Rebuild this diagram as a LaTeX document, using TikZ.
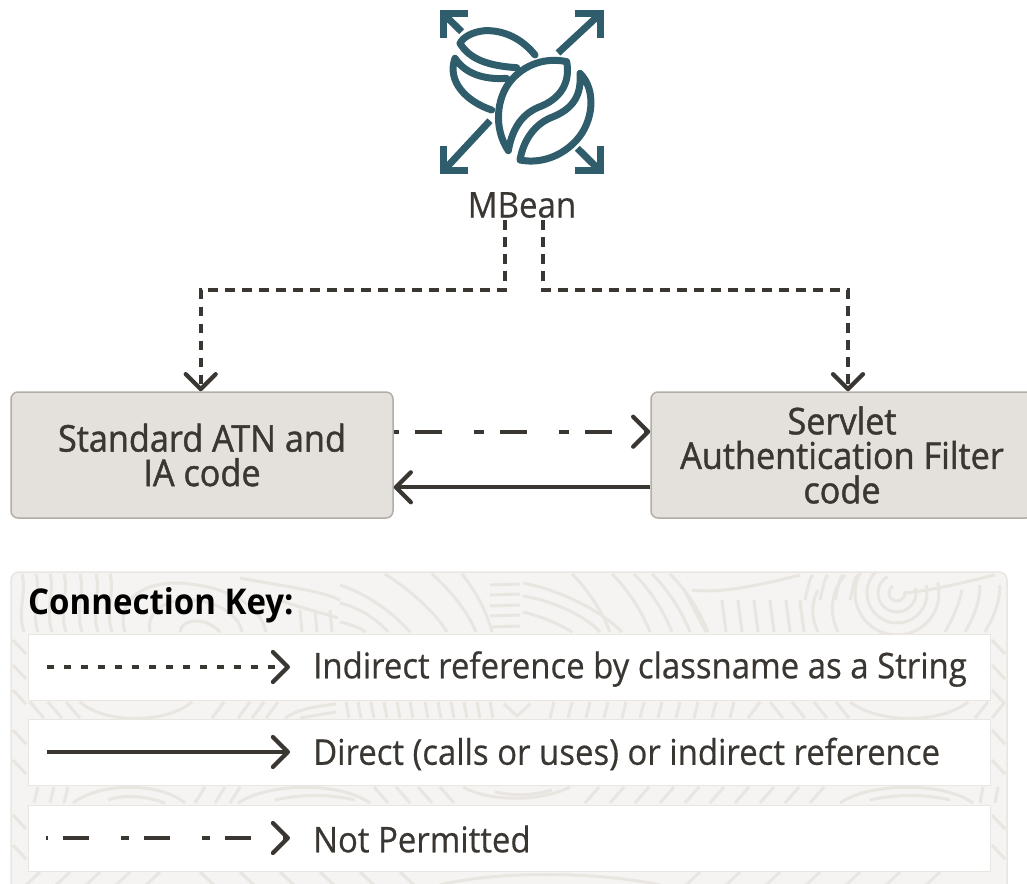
\documentclass[tikz,border=0pt]{standalone}
\usepackage{fontspec}
\setmainfont{Open Sans}[FakeStretch=0.93]
\newfontfamily\medfont{Open Sans}[FakeStretch=0.93,FakeBold=1.2]
\newfontfamily\keyfont{Open Sans}[FakeStretch=0.93,FakeBold=0.5]
\usetikzlibrary{arrows.meta}
\definecolor{teal}{HTML}{2F5D6B}
\definecolor{ink}{HTML}{3A3632}
\definecolor{boxfill}{HTML}{E4E1DC}
\definecolor{boxline}{HTML}{B2ADA5}
\definecolor{panel}{HTML}{F5F4F2}
\definecolor{grain}{HTML}{E9E6E1}
\tikzset{
  chev/.tip={Straight Barb[length=15pt,width=30pt,line width=4.2pt,round]},
  conn/.style={draw=ink,line width=4.2pt,-{chev}},
  dotline/.style={conn,dash pattern=on 9.5pt off 7.5pt},
  solidline/.style={conn},
  notline/.style={conn,dash pattern=on 10pt off 16pt on 27pt off 32pt,dash phase=5pt},
  codebox/.style={draw=boxline,fill=boxfill,line width=1.5pt,rounded corners=7pt,minimum width=382pt,minimum height=126pt,align=center,inner sep=0pt,text=ink,font=\medfont\fontsize{36.8}{34.5}\selectfont},
  rowbox/.style={fill=white,draw=grain,line width=1pt,minimum width=962pt,minimum height=66pt,inner sep=0pt},
  keytext/.style={anchor=west,inner sep=0pt,text=ink,font=\keyfont\fontsize{35.4}{38}\selectfont},
  icon/.style={draw=teal,line width=7pt,line cap=round,line join=round,fill=none},
  iconsq/.style={draw=teal,line width=7pt,line cap=butt,line join=miter,fill=none},
  wood/.style={draw=grain,line width=3pt}
}
\begin{document}
\begin{tikzpicture}[x=1pt,y=-1pt]
\useasboundingbox (0,0) rectangle (1027,883);
% icon
\draw[iconsq] (468,14) -- (443.5,14) -- (443.5,38);
\draw[iconsq] (575,14) -- (600,14) -- (600,38);
\draw[iconsq] (468,170.7) -- (443.5,170.7) -- (443.5,146);
\draw[iconsq] (575,170.7) -- (600,170.7) -- (600,146);
\draw[icon,line cap=butt] (443.5,14) -- (461.7,31.7);
\draw[icon,line cap=butt] (600,14) -- (558,53);
\draw[icon,line cap=butt] (443.5,170.7) -- (490,120.7);
\draw[icon,line cap=butt] (600,170.7) -- (577.3,148.3);
\begin{scope}[shift={(420,0)},x=0.33333pt,y=-0.33333pt]
\draw[icon] (440,185) .. controls (380,172) and (315,190) .. (270,245) .. controls (230,295) and (220,385) .. (265,452) .. controls (275,395) and (300,345) .. (355,322) .. controls (420,298) and (452,250) .. (440,185) -- cycle;
\draw[icon] (480,220) .. controls (530,270) and (520,365) .. (470,420) .. controls (425,470) and (360,492) .. (300,480) .. controls (310,420) and (345,370) .. (400,350) .. controls (460,325) and (485,285) .. (480,220) -- cycle;
\draw[icon] (345,165) .. controls (305,115) and (250,90) .. (195,92) .. controls (160,95) and (130,110) .. (120,130) .. controls (150,180) and (210,198) .. (290,203);
\draw[icon] (215,330) .. controls (140,305) and (80,245) .. (105,175) .. controls (135,220) and (190,240) .. (260,235);
\end{scope}
% boxes
\node[inner sep=0pt,text=ink,font=\keyfont\fontsize{35.5}{38}\selectfont] (mbean) at (522,205) {MBean};
\node[codebox] (atn) at (202,455) {Standard ATN and\\IA code};
\node[codebox] (servlet) at (842,455) {Servlet\\Authentication Filter\\code};
\coordinate (bend) at (0,290);
% connectors
\draw[dotline] ([xshift=-17pt,yshift=-2pt]mbean.south) -- ([xshift=-17pt]mbean.south |- bend) -| ([xshift=-1.3pt]atn.north);
\draw[dotline] ([xshift=21pt,yshift=-2pt]mbean.south) -- ([xshift=21pt]mbean.south |- bend) -| ([xshift=6pt]servlet.north);
\draw[notline] ([yshift=23.3pt]atn.east) -- ([yshift=23.3pt]servlet.west);
\draw[solidline] ([yshift=-32.3pt]servlet.west) -- ([yshift=-32.3pt]atn.east);
% key panel
\begin{scope}
\clip (11,900) [rounded corners=8pt] -- (11,572) -- (1007,572) -- (1007,900) -- cycle;
\fill[panel] (0,560) rectangle (1027,900);
% top band, left
\foreach \x in {22,36,50,64,80,96,110} {\draw[wood] (\x,574) .. controls (\x+5,590) and (\x-5,612) .. (\x+2,632);}
\draw[wood] (125,632) .. controls (115,600) and (145,578) .. (190,584) .. controls (240,590) and (262,612) .. (266,632);
\draw[wood] (150,632) .. controls (145,610) and (170,597) .. (195,600) .. controls (222,603) and (240,618) .. (242,632);
\draw[wood] (180,632) .. controls (180,620) and (205,615) .. (220,632);
\draw[wood] (240,578) .. controls (275,585) and (320,590) .. (340,600);
\draw[wood] (280,600) .. controls (300,608) and (320,612) .. (338,618);
\foreach \x in {300,315,330} {\draw[wood] (\x,610) -- (\x+2,632);}
% top band, middle
\draw[wood] (340,585) .. controls (370,595) and (395,615) .. (410,632);
\draw[wood] (340,603) .. controls (360,608) and (378,620) .. (388,632);
\draw[wood] (340,622) .. controls (350,624) and (360,628) .. (366,632);
\draw[wood] (385,574) .. controls (410,590) and (435,612) .. (447,632);
\draw[wood] (432,574) .. controls (450,590) and (468,612) .. (476,632);
\draw[wood] (462,574) .. controls (475,590) and (487,612) .. (492,632);
\foreach \y in {585,595,606,616,627} {\draw[wood] (490,\y) -- (520,\y-1);}
\draw[wood] (523,583) .. controls (560,590) and (600,610) .. (622,632);
\draw[wood] (523,596) .. controls (550,600) and (585,615) .. (600,632);
\draw[wood] (523,612) .. controls (540,616) and (560,624) .. (572,632);
\foreach \x in {572,612,634,652,670} {\draw[wood] (\x,574) .. controls (\x+18,592) and (\x+30,612) .. (\x+38,632);}
% top band, right
\draw[wood] (684,590) -- (706,632);
\draw[wood] (692,590) .. controls (720,594) and (760,585) .. (800,575);
\foreach \x in {722,738,754,770,786,800} {\draw[wood] (\x,600) .. controls (\x+1,612) and (\x+3,622) .. (\x+4,632);}
\foreach \x in {805,820,835,850} {\draw[wood] (\x,600) .. controls (\x+5,578) and (\x+5,578) .. (\x+8,575);}
\draw[wood] (818,632) .. controls (808,612) and (815,595) .. (818,590);
\draw[wood] (838,632) .. controls (828,612) and (832,590) .. (845,575);
\foreach \r in {8,19,30,42} {\draw[wood] (897-\r,593) arc[start angle=180,end angle=375,radius=\r pt];\draw[wood] (897-\r,593) arc[start angle=180,end angle=120,radius=\r pt];}
\draw[wood] (905,593) .. controls (935,590) and (965,582) .. (995,575);
\draw[wood] (945,632) .. controls (955,615) and (960,600) .. (962,590);
\draw[wood] (965,632) .. controls (975,615) and (980,600) .. (980,585);
\draw[wood] (985,632) .. controls (995,615) and (1000,600) .. (1000,585);
% gap 1
\foreach \x in {30,48,66} {\draw[wood] (\x,702) -- (\x+14,718);}
\draw[wood] (80,702) .. controls (105,724) and (165,724) .. (192,702);
\foreach \x in {212,238,252,266} {\draw[wood] (\x,718) -- (\x+12,702);}
\draw[wood] (285,718) .. controls (300,708) and (320,706) .. (336,704);
\draw[wood] (300,718) -- (336,712);
\foreach \x in {346,358,371,384,397,410,425,438,451,464,477,490} {\draw[wood] (\x,702) -- (\x+3,718);}
\draw[wood] (504,704) -- (517,716) -- (530,704);
\foreach \x in {550,568,586,604,622,640,658,676,694,712,730} {\draw[wood] (\x,718) -- (\x+4,702);}
\draw[wood] (748,718) -- (760,702);
\foreach \x in {770,792,814,836} {\draw[wood] (\x,702) -- (\x+13,718);}
\draw[wood] (850,702) .. controls (880,724) and (940,724) .. (968,702);
\foreach \x in {975,992} {\draw[wood] (\x,718) -- (\x+13,702);}
% gap 2
\foreach \x in {34,50,64} {\draw[wood] (\x,803) -- (\x+4,787);}
\draw[wood] (73,803) .. controls (100,782) and (160,782) .. (185,803);
\draw[wood] (108,800) .. controls (125,794) and (145,796) .. (165,803);
\foreach \x in {195,215,230} {\draw[wood] (\x,803) -- (\x+10,787);}
\draw[wood] (238,803) .. controls (270,782) and (340,782) .. (370,803);
\draw[wood] (275,800) .. controls (300,794) and (330,794) .. (355,800);
\foreach \x in {374,396,418,440} {\draw[wood] (\x,787) -- (\x+14,803);}
\draw[wood] (463,787) .. controls (490,802) and (540,802) .. (570,787);
\draw[wood] (495,792) .. controls (515,796) and (530,796) .. (552,790);
\foreach \x in {585,610,635,660,685,710,735,760,785,810} {\draw[wood] (\x,803) -- (\x+14,787);}
\draw[wood] (840,803) .. controls (870,782) and (945,782) .. (973,803);
\draw[wood] (870,800) .. controls (895,794) and (925,794) .. (950,800);
\foreach \x in {980,995} {\draw[wood] (\x,803) -- (\x+3,787);}
% gap 3
\foreach \x in {40,70,100,130,160} {\draw[wood] (\x,872) -- (\x-14,885);}
\foreach \x in {200,240,280,320,360,400} {\draw[wood] (\x,872) -- (\x+14,885);}
\draw[wood] (440,885) .. controls (500,870) and (600,872) .. (660,885);
\foreach \x in {700,740,780,820,860,900,940} {\draw[wood] (\x,872) -- (\x-14,885);}
% side strips
\foreach \y in {640,665,690,730,760,815,845} {\draw[wood] (13,\y) -- (26,\y+14); \draw[wood] (992,\y) -- (1005,\y+14);}
\end{scope}
\draw[draw=grain,line width=1.5pt,rounded corners=8pt] (11,890) -- (11,572) -- (1007,572) -- (1007,890);
\node[rowbox] (row1) at (509,667) {};
\node[rowbox] (row2) at (509,752) {};
\node[rowbox] (row3) at (509,838) {};
\node[anchor=west,inner sep=0pt,text=black,font=\fontsize{35.5}{38}\selectfont\bfseries] (keytitle) at (28,605) {Connection Key:};
\node[keytext] (t1) at (313,669) {Indirect reference by classname as a String};
\node[keytext] (t2) at (313,754) {Direct (calls or uses) or indirect reference};
\node[keytext] (t3) at (313,839) {Not Permitted};
\coordinate (k1a) at (47,667); \coordinate (k1b) at (290,667);
\coordinate (k2a) at (47,752); \coordinate (k2b) at (290,752);
\coordinate (k3a) at (46,838); \coordinate (k3b) at (290,838);
\draw[dotline,line width=3.6pt,dash pattern=on 6.5pt off 10.5pt] (k1a) -- (k1b);
\draw[solidline] (k2a) -- (k2b);
\draw[notline,line width=4pt,dash pattern=on 8pt off 15pt on 26pt off 32pt,dash phase=6pt] (k3a) -- (k3b);
\end{tikzpicture}
\end{document}
